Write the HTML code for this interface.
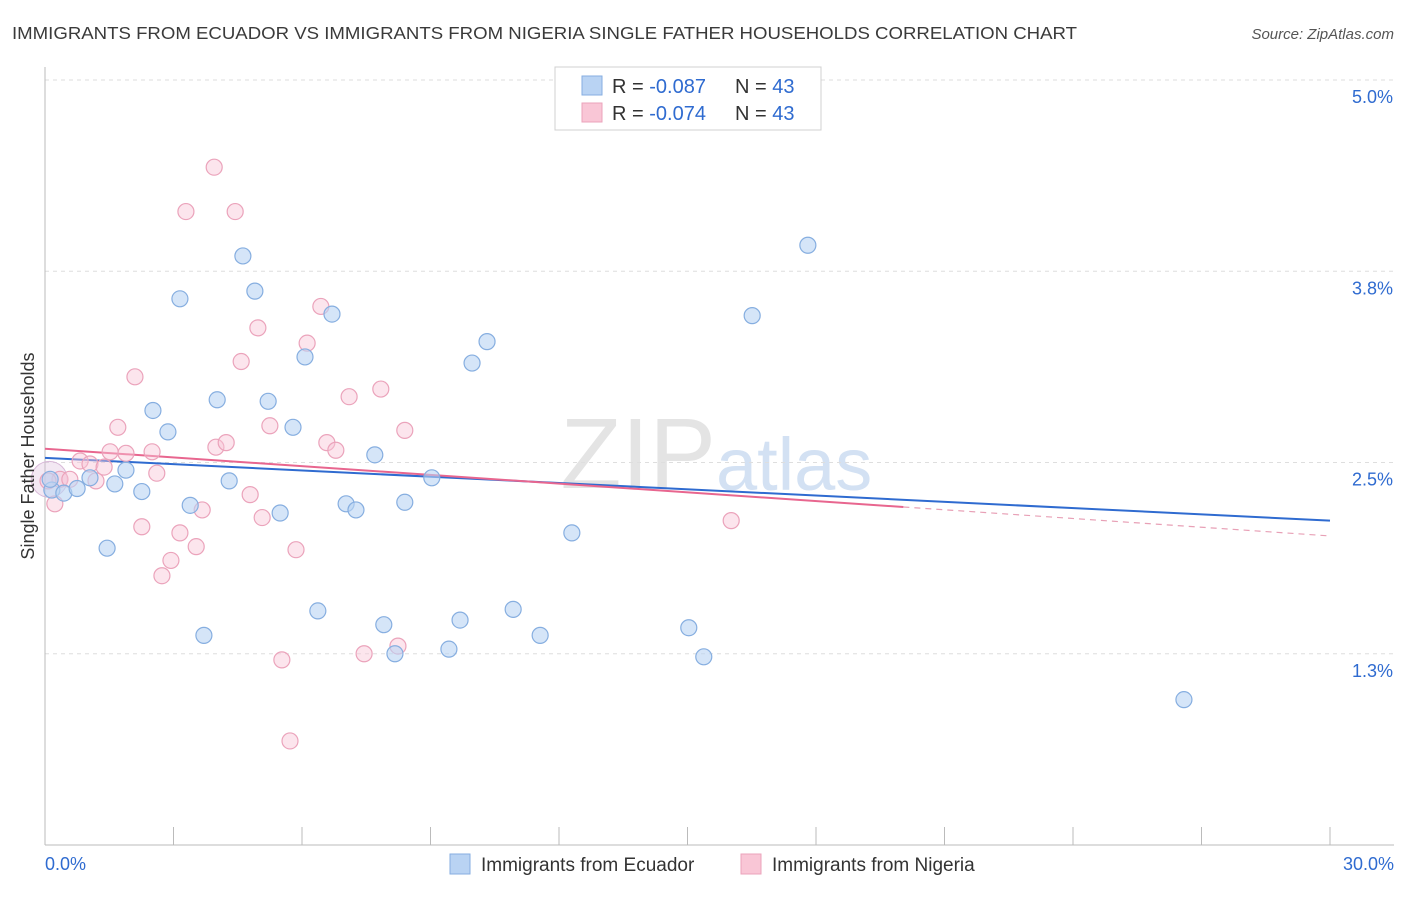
<!DOCTYPE html>
<html><head><meta charset="utf-8"><style>
body{margin:0;background:#fff;font-family:"Liberation Sans",sans-serif;}
svg text{font-family:"Liberation Sans",sans-serif;}
</style></head><body>
<svg id="chart" width="1406" height="892" viewBox="0 0 1406 892">
<text x="12" y="39" font-size="17.5" fill="#3a3a3a" textLength="1065" lengthAdjust="spacingAndGlyphs">IMMIGRANTS FROM ECUADOR VS IMMIGRANTS FROM NIGERIA SINGLE FATHER HOUSEHOLDS CORRELATION CHART</text>
<text x="1394" y="39" font-size="15" fill="#555" font-style="italic" text-anchor="end">Source: ZipAtlas.com</text>
<text x="716" y="488" font-size="100" fill="#e4e4e4" text-anchor="end" font-family="Liberation Serif">ZIP</text>
<text x="716" y="490" font-size="74" fill="#d3e1f3">atlas</text>
<g id="grid"></g><g id="axes"></g><g id="trend"></g><g id="pts"></g>
<g>
<rect x="555" y="67" width="266" height="63" fill="#fff" stroke="#d0d0d0"/>
<rect x="582" y="76" width="20" height="19" fill="#b9d3f3" stroke="#86aee0"/>
<rect x="582" y="103" width="20" height="19" fill="#f9c6d6" stroke="#eba3bb"/>
<text x="612" y="93" font-size="20" fill="#333">R = <tspan fill="#2f6bd0">-0.087</tspan></text>
<text x="735" y="93" font-size="20" fill="#333">N = <tspan fill="#2f6bd0">43</tspan></text>
<text x="612" y="120" font-size="20" fill="#333">R = <tspan fill="#2f6bd0">-0.074</tspan></text>
<text x="735" y="120" font-size="20" fill="#333">N = <tspan fill="#2f6bd0">43</tspan></text>
</g>
<g>
<rect x="450" y="854" width="20" height="20" fill="#b9d3f3" stroke="#86aee0"/>
<text x="481" y="871" font-size="19" fill="#333">Immigrants from Ecuador</text>
<rect x="741" y="854" width="20" height="20" fill="#f9c6d6" stroke="#eba3bb"/>
<text x="772" y="871" font-size="19" fill="#333">Immigrants from Nigeria</text>
</g>
<text x="34" y="456" font-size="18" fill="#333" text-anchor="middle" transform="rotate(-90 34 456)">Single Father Households</text>
</svg>
<script>
const blueX=[0.16,0.44,0.75,1.05,1.63,1.89,2.26,1.45,2.52,2.87,3.15,3.39,3.71,4.02,4.30,4.62,4.90,5.21,5.49,5.79,6.07,6.37,6.70,7.03,7.26,7.70,7.91,8.17,8.40,9.03,9.43,9.69,9.97,10.32,10.93,11.56,12.30,15.03,15.38,16.51,17.81,26.59,0.12];
const blueY=[2.32,2.30,2.33,2.40,2.36,2.45,2.31,1.94,2.84,2.70,3.57,2.22,1.37,2.91,2.38,3.85,3.62,2.90,2.17,2.73,3.19,1.53,3.47,2.23,2.19,2.55,1.44,1.25,2.24,2.40,1.28,1.47,3.15,3.29,1.54,1.37,2.04,1.42,1.23,3.46,3.92,0.95,2.39];
const pinkX=[0.23,0.35,0.82,1.05,1.19,1.38,1.52,1.70,1.89,2.10,2.26,2.50,2.61,2.73,2.94,3.15,3.29,3.53,3.67,3.95,3.99,4.23,4.44,4.58,4.79,4.97,5.07,5.25,5.53,5.72,5.86,6.12,6.44,6.58,6.79,7.10,7.45,7.84,8.24,8.40,16.02,0.07,0.58];
const pinkY=[2.23,2.39,2.51,2.49,2.38,2.47,2.57,2.73,2.56,3.06,2.08,2.57,2.43,1.76,1.86,2.04,4.14,1.95,2.19,4.43,2.60,2.63,4.14,3.16,2.29,3.38,2.14,2.74,1.21,0.68,1.93,3.28,3.52,2.63,2.58,2.93,1.25,2.98,1.30,2.71,2.12,2.38,2.39];
const yTicks=[5.0,3.75,2.5,1.25];
const yTickLabels=["5.0%","3.8%","2.5%","1.3%"];
const xTickVals=[0,3,6,9,12,15,18,21,24,27,30];
const blueTrend=[2.53,2.12];
const pinkTrend=[2.59,2.02];
const pinkSolidEnd=20.04;
const X=v=>45+v/30*1285, Y=v=>845-v/5*765;
const NS="http://www.w3.org/2000/svg";
function mk(tag,attrs,parent){const e=document.createElementNS(NS,tag);for(const k in attrs)e.setAttribute(k,attrs[k]);document.getElementById(parent).appendChild(e);return e;}
yTicks.forEach((t,i)=>{
 const l=mk('line',{x1:45,x2:1394,y1:Y(t),y2:Y(t),stroke:'#dedede','stroke-dasharray':'4,4'},'grid');
 
 
 const tx=mk('text',{x:1393,y:Y(t)+23,'font-size':18,fill:'#2f6bd0','text-anchor':'end'},'grid');tx.textContent=yTickLabels[i];
 
 
});
const ax=mk('line',{x1:45,x2:45,y1:67,y2:845,stroke:'#bbb'},'axes');


const bx=mk('line',{x1:45,x2:1394,y1:845,y2:845,stroke:'#bbb'},'axes');


xTickVals.forEach(v=>{const t=mk('line',{x1:X(v),x2:X(v),y1:827,y2:845,stroke:'#bbb'},'axes');
 
 });
const x0=mk('text',{x:45,y:870,'font-size':18,fill:'#2f6bd0'},'axes');x0.textContent='0.0%';


const x1=mk('text',{x:1394,y:870,'font-size':18,fill:'#2f6bd0','text-anchor':'end'},'axes');x1.textContent='30.0%';


const bt=mk('line',{x1:X(0),y1:Y(blueTrend[0]),x2:X(30),y2:Y(blueTrend[1]),stroke:'#2f6bd0','stroke-width':2},'trend');


const pm=pinkTrend[0]+(pinkTrend[1]-pinkTrend[0])*pinkSolidEnd/30;
const pt=mk('line',{x1:X(0),y1:Y(pinkTrend[0]),x2:X(pinkSolidEnd),y2:Y(pm),stroke:'#e8668f','stroke-width':2},'trend');


const pd=mk('line',{x1:X(pinkSolidEnd),y1:Y(pm),x2:X(30),y2:Y(pinkTrend[1]),stroke:'#e8a0b6','stroke-width':1.2,'stroke-dasharray':'6,5'},'trend');


const bigC=mk('circle',{cx:X(0.1),cy:Y(2.39),r:18,fill:'rgba(220,190,220,0.35)',stroke:'#d8b8d8'},'pts');


pinkX.forEach((v,i)=>{const c=mk('circle',{cx:X(v),cy:Y(pinkY[i]),r:8,fill:'rgba(249,198,214,0.45)',stroke:'#eba3bb','stroke-width':1.2},'pts');
 
 });
blueX.forEach((v,i)=>{const c=mk('circle',{cx:X(v),cy:Y(blueY[i]),r:8,fill:'rgba(185,211,243,0.6)',stroke:'#86aee0','stroke-width':1.2},'pts');
 
 });
</script>
</body></html>
